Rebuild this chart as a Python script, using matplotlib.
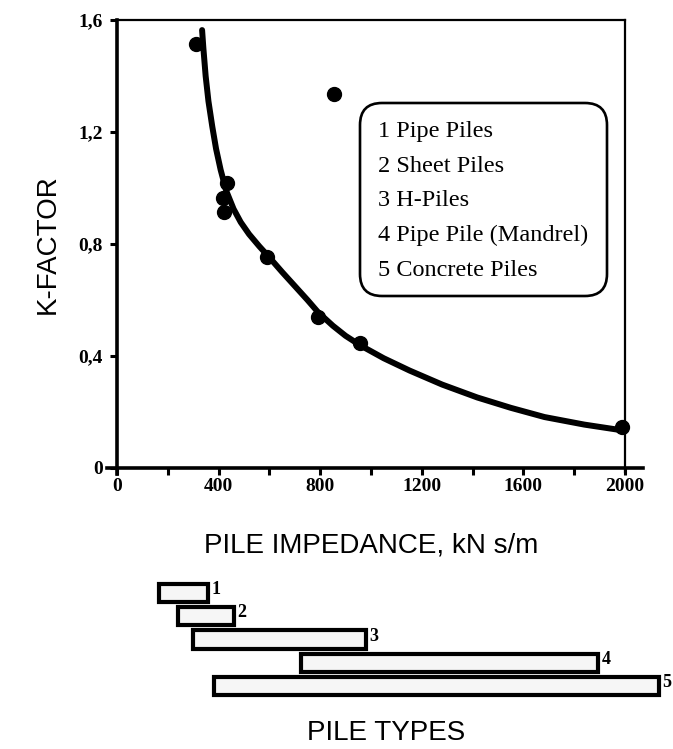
import matplotlib
matplotlib.use("Agg")
import matplotlib.pyplot as plt
from matplotlib.lines import Line2D
from matplotlib.patches import FancyBboxPatch

# ---- data ----
impedance = [312, 855, 434, 416, 421, 590, 790, 955, 1990]
k_factor = [1.515, 1.335, 1.017, 0.963, 0.915, 0.752, 0.541, 0.445, 0.145]

curve_x = [335, 340, 349, 360, 375, 390, 408, 430, 459, 487, 520, 560, 600, 650, 700,
           750, 792, 850, 900, 958, 1050, 1152, 1280, 1418, 1550, 1683, 1840, 2000]
curve_y = [1.564, 1.50, 1.40, 1.31, 1.22, 1.14, 1.065, 0.99, 0.925, 0.878, 0.835, 0.792,
           0.752, 0.700, 0.650, 0.600, 0.556, 0.508, 0.472, 0.438, 0.392, 0.348, 0.298,
           0.252, 0.215, 0.182, 0.155, 0.133]

x_ticks = [0, 400, 800, 1200, 1600, 2000]
x_minor = [200, 600, 1000, 1400, 1800]
y_ticks = [0, 0.4, 0.8, 1.2, 1.6]
y_labels = ["0", "0,4", "0,8", "1,2", "1,6"]

legend_lines = ["1 Pipe Piles", "2 Sheet Piles", "3 H-Piles",
                "4 Pipe Pile (Mandrel)", "5 Concrete Piles"]

pile_types = ["1", "2", "3", "4", "5"]
range_start = [165, 240, 300, 725, 380]
range_end = [360, 460, 980, 1895, 2132]

W, H = 673, 749
fig = plt.figure(figsize=(W / 100, H / 100), dpi=100)

serif = ["Liberation Serif", "DejaVu Serif"]
sans = ["Liberation Sans", "DejaVu Sans"]

# ---- main axes ----
ax = fig.add_axes([117 / W, (H - 468) / H, 508 / W, 448 / H])
ax.set_xlim(0, 2000)
ax.set_ylim(0, 1.6)
for s in ax.spines.values():
    s.set_visible(False)

ax.plot(curve_x, curve_y, color="black", lw=4.3, solid_capstyle="round",
        solid_joinstyle="round", zorder=3)
ax.plot(impedance, k_factor, "o", color="black", ms=10, zorder=4, clip_on=False)

# frame lines
ax.add_line(Line2D([-40, 2070], [0, 0], color="black", lw=2.6, clip_on=False))
ax.add_line(Line2D([0, 0], [-0.02, 1.6], color="black", lw=2.6, clip_on=False))
ax.add_line(Line2D([0, 2000], [1.6, 1.6], color="black", lw=1.6, clip_on=False))
ax.add_line(Line2D([2000, 2000], [-0.015, 1.6], color="black", lw=1.6, clip_on=False))

ax.set_xticks(x_ticks)
ax.set_xticklabels([str(v) for v in x_ticks], fontfamily=serif, fontweight="bold", fontsize=14)
ax.set_xticks(x_minor, minor=True)
ax.set_yticks(y_ticks)
ax.set_yticklabels(y_labels, fontfamily=serif, fontweight="bold", fontsize=14)
ax.tick_params(axis="both", which="both", direction="out", length=5, width=2.2, color="black")
ax.tick_params(axis="x", pad=2)
ax.tick_params(axis="y", pad=5)
ax.tick_params(top=False, right=False)

ax.set_ylabel("K-FACTOR", fontfamily=sans, fontsize=20, labelpad=13)
ax.set_xlabel("PILE IMPEDANCE, kN s/m", fontfamily=sans, fontsize=20, labelpad=27)

# legend box
box = FancyBboxPatch((3.60, (H - 296) / 100), 2.47, 1.93,
                     boxstyle="round,pad=0,rounding_size=0.22",
                     transform=fig.dpi_scale_trans, fc="white", ec="black", lw=1.9, zorder=5)
fig.patches.append(box)
for i, t in enumerate(legend_lines):
    fig.text(378 / W, 1 - (132 + 34.5 * i) / H, t, fontfamily=serif, fontsize=17.5,
             va="center", ha="left", zorder=6)

# ---- pile types axes ----
ax2 = fig.add_axes([117 / W, (H - 710) / H, 508 / W, 140 / H])
ax2.set_xlim(0, 2000)
ax2.set_ylim(5.032, -0.989)
ax2.axis("off")
for i, (a, b) in enumerate(zip(range_start, range_end)):
    ax2.barh(i, b - a, left=a, height=0.78, facecolor="#f6f6f6", edgecolor="black",
             lw=3.0, clip_on=False, zorder=2 + i)
    ax2.text(b + 14, i - 0.15, pile_types[i], fontfamily=serif, fontweight="bold",
             fontsize=13, va="center", ha="left", clip_on=False)

fig.text(386 / W, 1 - 733 / H, "PILE TYPES", fontfamily=sans, fontsize=20,
         ha="center", va="center")

fig.savefig("out.png", dpi=100)
